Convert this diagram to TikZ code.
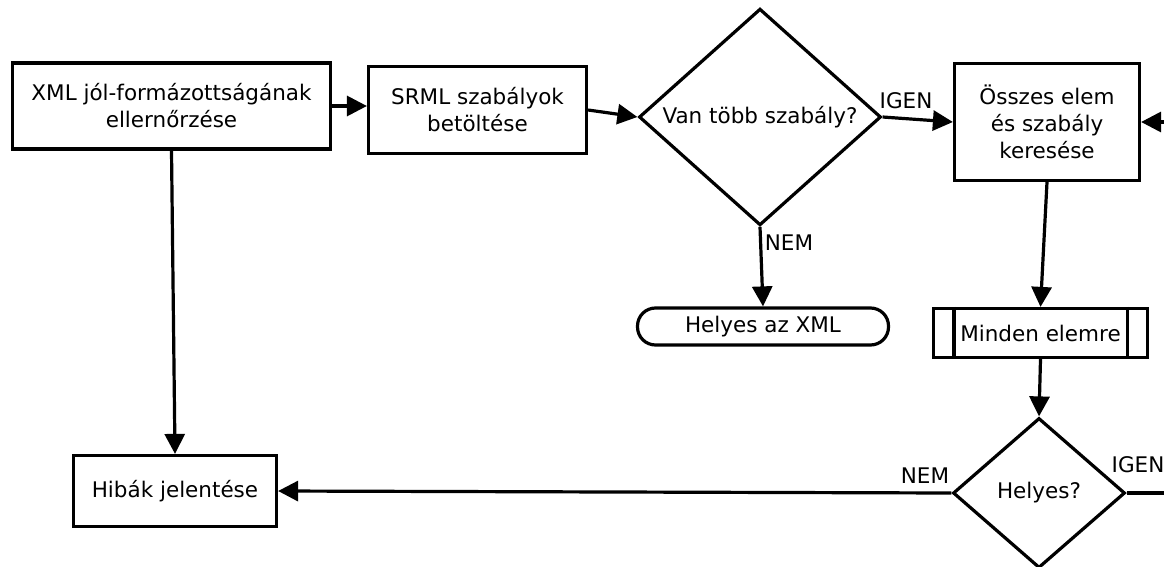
\documentclass[tikz,border=0pt]{standalone}
\usepackage{fontspec}
\setmainfont{DejaVu Sans}
\usetikzlibrary{shapes.geometric,arrows.meta}
\begin{document}
\begin{tikzpicture}[x=1pt,y=-1pt,line width=3.2pt,
  every node/.style={font=\fontsize{21.5}{27}\selectfont},
  box/.style={draw,rectangle,inner sep=0pt,align=center},
  dec/.style={draw,diamond,inner sep=0pt,align=center},
  term/.style={draw,rectangle,rounded corners=18pt,inner sep=0pt},
  arr/.style={-{Triangle[length=20pt,width=20pt]}},
  lbl/.style={inner sep=2pt}]
\useasboundingbox (0,0) rectangle (1164,567);
\node[box,minimum width=318pt,minimum height=86pt] (b1) at (171.5,106)
  {\fontsize{21.5}{33}\selectfont XML jól-formázottságának\\ellernőrzése};
\node[box,minimum width=218pt,minimum height=87pt] (b2) at (477.5,110)
  {SRML szabályok\\betöltése};
\node[dec,minimum width=242pt,minimum height=208pt] (d1) at (760,117)
  {Van több szabály?};
\node[box,minimum width=185pt,minimum height=117pt] (b3) at (1047,122)
  {Összes elem\\és szabály\\keresése};
\node[term,minimum width=251pt,minimum height=37pt] (t1) at (763,326.5)
  {Helyes az XML};
\node[box,minimum width=214pt,minimum height=49pt] (b4) at (1040.5,333)
  {Minden elemre};
\draw ([xshift=22pt]b4.north west) -- ([xshift=22pt]b4.south west);
\draw ([xshift=-22pt]b4.north east) -- ([xshift=-22pt]b4.south east);
\node[dec,minimum width=172pt,minimum height=150pt] (d2) at (1039,493)
  {Helyes?};
\node[box,minimum width=203pt,minimum height=71pt] (b5) at (175,491)
  {Hibák jelentése};
\coordinate (inR) at (1172,122);
\coordinate (outR) at (1172,493);
\draw[arr] (b1.east) -- (b1.east -| b2.west);
\draw[arr] (b2.east) -- (d1.west);
\draw[arr] (d1.east) -- (b3.west);
\node[lbl] (igen1) at (906,101) {IGEN};
\draw[arr] (inR) -- (b3.east);
\draw[arr] (d1.south) -- (t1.north);
\node[lbl] (nem1) at (789,243) {NEM};
\draw[arr] (b3.south) -- (b4.north);
\draw[arr] (b4.south) -- (d2.north);
\draw[arr] (d2.west) -- (b5.east);
\node[lbl] (nem2) at (925,476) {NEM};
\draw (d2.east) -- (outR);
\node[lbl] (igen2) at (1138,465) {IGEN};
\draw[arr] (b1.south) -- (b5.north);
\end{tikzpicture}
\end{document}
